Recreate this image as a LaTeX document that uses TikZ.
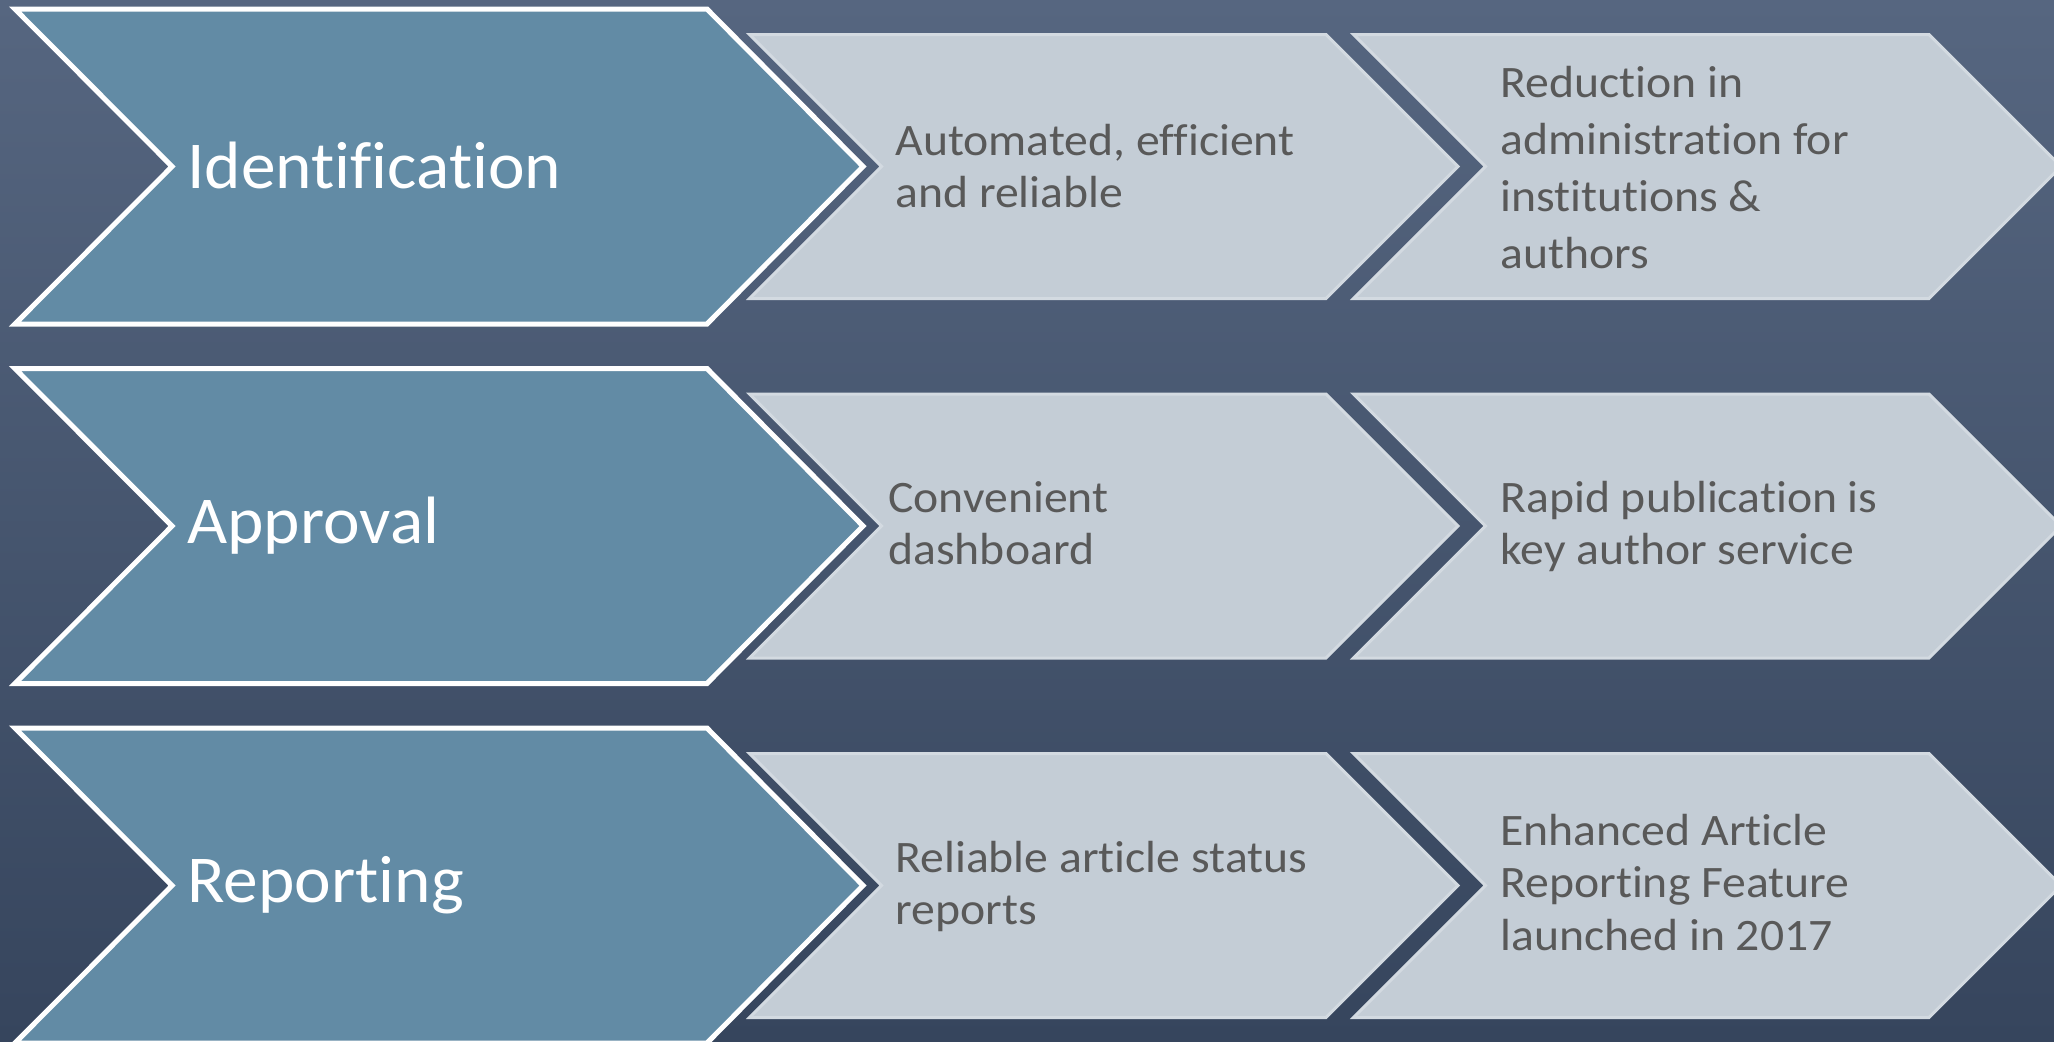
\documentclass[tikz,border=0pt]{standalone}
\usepackage{fontspec}
\setmainfont{Carlito}[Ligatures=NoCommon]
\newfontfamily\smallfont{Carlito}[Ligatures=NoCommon, FakeStretch=1.06]
\newfontfamily\bigfont{Carlito}[Ligatures=NoCommon, FakeStretch=1.035]
\definecolor{bgtop}{HTML}{566680}
\definecolor{bgbot}{HTML}{36455D}
\definecolor{bigfill}{HTML}{628BA5}
\definecolor{lightfill}{HTML}{C4CDD6}
\definecolor{lightrim}{HTML}{D3DAE1}
\definecolor{txtgrey}{HTML}{595959}
\tikzset{
  bigchev/.style={fill=bigfill, draw=white, line width=2.5pt, line join=miter},
  lightchev/.style={fill=lightfill, draw=lightrim, line width=1.5pt, line join=miter},
  biglabel/.style={anchor=west, inner sep=0pt, text=white, font=\bigfont\fontsize{33.5}{40}\selectfont},
  smalllabel/.style={anchor=west, inner sep=0pt, align=left, text=txtgrey, font=\smallfont\fontsize{22.5}{26.2}\selectfont},
  widelabel/.style={smalllabel, font=\smallfont\fontsize{22.5}{28.6}\selectfont},
}
\begin{document}
\begin{tikzpicture}[x=0.5pt, y=-0.5pt]
  \useasboundingbox (0,0) rectangle (2054,1041);
  \clip (0,0) rectangle (2054,1041);
  \fill[top color=bgtop, bottom color=bgbot] (0,0) rectangle (2054,1041);
  \foreach \c in {166.5, 526, 885.5} {
    \path[bigchev] (15,\c-157.5) -- (707,\c-157.5) -- (863,\c) -- (707,\c+157.5) -- (15,\c+157.5) -- (172,\c) -- cycle;
    \path[lightchev] (749.5,\c-132) -- (1326,\c-132) -- (1458,\c) -- (1326,\c+132) -- (749.5,\c+132) -- (881.5,\c) -- cycle;
    \path[lightchev] (1353.5,\c-132) -- (1929,\c-132) -- (2061,\c) -- (1929,\c+132) -- (1353.5,\c+132) -- (1485.5,\c) -- cycle;
  }
  % row 1
  \node[biglabel] (id) at (187,165.5) {Identification};
  \node[smalllabel] (a1) at (895,166) {Automated, efficient\\and reliable};
  \node[widelabel] (a2) at (1500,167.5) {Reduction in\\administration for\\institutions \&\\authors};
  % row 2
  \node[biglabel] (ap) at (187,526) {Approval};
  \node[smalllabel] (b1) at (888,523) {Convenient\\dashboard};
  \node[smalllabel] (b2) at (1500,526.5) {Rapid publication is\\key author service};
  % row 3
  \node[biglabel] (rp) at (187,885.5) {Reporting};
  \node[smalllabel] (c1) at (895,886.5) {Reliable article status\\reports};
  \node[smalllabel] (c2) at (1500,882.5) {Enhanced Article\\Reporting Feature\\launched in 2017};
\end{tikzpicture}
\end{document}
